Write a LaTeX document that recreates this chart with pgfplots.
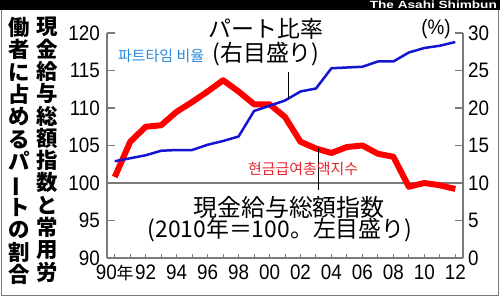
\documentclass[border=0pt]{standalone}
\usepackage{fontspec}
\usepackage{graphicx}
\usepackage{pgfplots}
\pgfplotsset{compat=1.18}
\setmainfont{Liberation Sans}
\newfontfamily\tickfont[FakeStretch=0.9]{Liberation Sans}
\newfontfamily\jp{Noto Sans CJK JP}
\newfontfamily\kr{Noto Sans CJK KR}
\definecolor{redline}{HTML}{FF0000}
\definecolor{blueline}{HTML}{1414D2}
\definecolor{krblue}{HTML}{2A8ADB}
\definecolor{krred}{HTML}{E4262F}
\definecolor{axgray}{HTML}{7A7A7A}

\pgfplotstableread{
year idx
1990 100.8
1991 105.5
1992 107.5
1993 107.7
1994 109.5
1995 110.8
1996 112.2
1997 113.7
1998 112.2
1999 110.5
2000 110.5
2001 108.8
2002 105.5
2003 104.6
2004 104.0
2005 104.8
2006 105.0
2007 103.9
2008 103.5
2009 99.5
2010 100.0
2011 99.7
2012 99.2
}\redtab

\pgfplotstableread{
year pct
1990 12.9
1991 13.3
1992 13.7
1993 14.3
1994 14.4
1995 14.4
1996 15.1
1997 15.6
1998 16.2
1999 19.6
2000 20.3
2001 21.0
2002 22.2
2003 22.6
2004 25.3
2005 25.4
2006 25.5
2007 26.2
2008 26.2
2009 27.4
2010 28.0
2011 28.3
2012 28.8
}\bluetab

\begin{document}
\begin{tikzpicture}[x=1bp,y=1bp]
\path[use as bounding box] (0,0) rectangle (500,297);
\fill[white] (0,0) rectangle (500,297);
\draw[axgray, line width=1.2bp] (1.5,1.5) rectangle (498.5,288);
\fill[black] (0,287) rectangle (500,297);
\node[anchor=east, text=white, font=\bfseries\fontsize{10.5}{10.5}\selectfont, inner sep=0] at (497,291.8) {\scalebox{1.3}[1]{The Asahi Shimbun}};

% x axis
\begin{axis}[
  at={(107bp,39bp)}, anchor=south west,
  scale only axis, width=356bp, height=225bp,
  xmin=1989.5, xmax=2012.5, ymin=90, ymax=120,
  axis x line*=bottom, axis y line=none,
  axis line style={axgray, line width=1.5bp, -},
  xtick={1990,1992,...,2012}, minor xtick={1991,1993,...,2011},
  xticklabels={90{\jp\fontsize{17}{17}\selectfont 年},92,94,96,98,00,02,04,06,08,10,12},
  tick align=inside, major tick length=4.5bp, minor tick length=4.5bp,
  tick style={axgray, line width=1bp},
  xticklabel style={font=\tickfont\fontsize{21}{21}\selectfont, inner sep=0, yshift=-7bp},
]
\end{axis}

% left axis
\begin{axis}[
  at={(107bp,39bp)}, anchor=south west,
  scale only axis, width=356bp, height=225bp,
  xmin=1989.5, xmax=2012.5, ymin=90, ymax=120,
  axis y line*=left, axis x line=none,
  axis line style={axgray, line width=1.5bp, -},
  ytick={90,95,...,120}, yticklabels={90,95,100,105,110,115,120},
  tick align=inside, major tick length=8bp,
  tick style={axgray, line width=1.2bp},
  yticklabel style={font=\tickfont\fontsize{21}{21}\selectfont, inner sep=0, xshift=-7bp},
]
\addplot[axgray, line width=1.5bp, forget plot] coordinates {(1989.5,100) (2012.5,100)};
\addplot[redline, line width=6bp, line join=round] table[x=year, y=idx] {\redtab};
\end{axis}

% right axis
\begin{axis}[
  at={(107bp,39bp)}, anchor=south west,
  scale only axis, width=356bp, height=225bp,
  xmin=1989.5, xmax=2012.5, ymin=0, ymax=30,
  axis y line*=right, axis x line=none,
  axis line style={axgray, line width=1.5bp, -},
  ytick={0,5,...,30}, yticklabels={0,5,10,15,20,25,30},
  tick align=inside, major tick length=8bp,
  tick style={axgray, line width=1.2bp},
  yticklabel style={font=\tickfont\fontsize{21}{21}\selectfont, inner sep=0, xshift=5bp},
]
\addplot[blueline, line width=2.5bp, line join=round] table[x=year, y=pct] {\bluetab};
\end{axis}

% (%)
\node[font=\tickfont\fontsize{21}{21}\selectfont, inner sep=0] at (436,268) {(\%)};

% leader lines
\draw[black, line width=0.8bp] (288,225) -- (288,199);
\draw[black, line width=0.8bp] (318,149) -- (318,107);

% Japanese annotations
\node[anchor=base, inner sep=0, font=\jp\fontsize{23}{23}\selectfont] at (266,259.5) {パート比率};
\node[anchor=base, inner sep=0, font=\jp\fontsize{23}{23}\selectfont] at (266,236) {(右目盛り)};
\node[anchor=base, inner sep=0, font=\jp\fontsize{24}{24}\selectfont] at (289,81) {現金給与総額指数};
\node[anchor=base, inner sep=0, font=\jp\fontsize{23}{23}\selectfont] at (280,60) {(2010年＝100。左目盛り)};

% Korean annotations
\node[anchor=base west, inner sep=0, text=krblue, font=\kr\fontsize{15}{15}\selectfont] at (118,236) {파트타임 비율};
\node[anchor=base west, inner sep=0, text=krred, font=\kr\fontsize{15}{15}\selectfont] at (248,123) {현금급여총액지수};

% vertical title
\node[anchor=north, inner sep=0, align=center, font=\jp\bfseries\fontsize{21.5}{22.4}\selectfont] at (47.5,280)
 {現\\金\\給\\与\\総\\額\\指\\数\\と\\常\\用\\労};
\node[anchor=north, inner sep=0, align=center, font=\jp\bfseries\fontsize{21.5}{22.4}\selectfont] at (19.5,280)
 {働\\者\\に\\占\\め\\る\\パ\\\rotatebox[origin=c]{90}{ー}\\ト\\の\\割\\合};
\end{tikzpicture}
\end{document}
